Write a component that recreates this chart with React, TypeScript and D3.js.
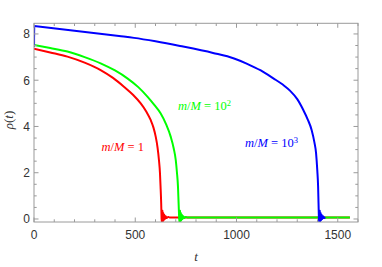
import React from "react";
import * as d3 from "d3";

// ---- data ----
// smooth part of each curve, up to the collapse
const redT = [0, 80, 165, 250, 329, 390, 444, 490, 527, 555, 576, 590, 601, 610, 617, 622, 625, 628, 630];
const redRho = [7.36, 7.2, 7.02, 6.76, 6.44, 6.1, 5.72, 5.36, 5.0, 4.64, 4.28, 3.95, 3.56, 3.1, 2.55, 2.0, 1.4, 0.7, 0.0];
// ringing tail after the collapse
const redTailT = [630, 632, 634, 636, 638, 640, 643, 646, 650, 655, 662, 672, 1560];
const redTailRho = [0.0, -0.14, 0.36, -0.1, 0.26, -0.05, 0.18, 0.0, 0.12, 0.04, 0.09, 0.06, 0.06];

const greenT = [0, 80, 165, 250, 329, 400, 461, 515, 560, 595, 625, 652, 675, 690, 700, 706, 711, 714, 717];
const greenRho = [7.52, 7.39, 7.24, 7.0, 6.73, 6.42, 6.08, 5.7, 5.29, 4.92, 4.57, 4.1, 3.56, 3.05, 2.55, 2.0, 1.4, 0.7, 0.0];
const greenTailT = [717, 719, 721, 723, 725, 727, 730, 733, 737, 742, 749, 759, 1560];
const greenTailRho = [0.0, -0.14, 0.36, -0.1, 0.26, -0.05, 0.18, 0.0, 0.12, 0.04, 0.09, 0.06, 0.06];

const blueStartT = [0, 1];
const blueStartRho = [7.45, 8.34];
const blueT = [1, 200, 420, 494, 600, 721, 884, 988, 1050, 1120, 1182, 1230, 1264, 1300, 1330, 1352, 1371, 1385, 1393, 1399, 1403, 1405, 1407];
const blueRho = [8.34, 8.14, 7.91, 7.83, 7.68, 7.48, 7.18, 6.94, 6.72, 6.42, 6.08, 5.8, 5.55, 5.18, 4.71, 4.3, 3.85, 3.3, 2.84, 2.1, 1.4, 0.7, 0.0];
const blueTailT = [1407, 1409, 1411, 1413, 1415, 1417, 1420, 1423, 1427, 1432, 1439];
const blueTailRho = [0.0, -0.14, 0.36, -0.1, 0.26, -0.05, 0.18, 0.0, 0.12, 0.04, 0.07];

const xMajor = [0, 500, 1000, 1500];
const yMajor = [0, 2, 4, 6, 8];

const W = 382, H = 267;
const x = d3.scaleLinear().domain([0, 1600]).range([34, 358]);
const y = d3.scaleLinear().domain([-0.13, 8.46]).range([222, 23.3]);

const xMinor = d3.range(0, 1601, 100).filter(v => v % 500 !== 0);
const yMinor = d3.range(0, 8.46, 0.5).filter(v => v % 2 !== 0);

const smooth = d3.line<[number, number]>().x(d => x(d[0])).y(d => y(d[1])).curve(d3.curveMonotoneX);
const straight = d3.line<[number, number]>().x(d => x(d[0])).y(d => y(d[1]));
const zip = (a: number[], b: number[]) => a.map((t, i) => [t, b[i]] as [number, number]);

const frameColor = "#9a9a9a";
const labelColor = "#333";

export default function App() {
  const [x0, x1] = x.range();
  const [y0, y1] = y.range();
  const series = [
    { parts: [smooth(zip(redT, redRho)), straight(zip(redTailT, redTailRho))], c: "#ff0000" },
    { parts: [smooth(zip(greenT, greenRho)), straight(zip(greenTailT, greenTailRho))], c: "#00ff00" },
    { parts: [straight(zip(blueStartT, blueStartRho)), smooth(zip(blueT, blueRho)), straight(zip(blueTailT, blueTailRho))], c: "#0000ff" },
  ];
  const serif = "'Liberation Serif', 'DejaVu Serif', serif";
  const sans = "'Liberation Sans', Arial, sans-serif";
  const eq = "\u00A0=\u00A0";
  return (
    <svg width={W} height={H} style={{ position: "absolute", left: 0, top: 0 }}>
      <defs>
        <clipPath id="plotclip">
          <rect x={x0} y={y1} width={x1 - x0} height={y0 - y1} />
        </clipPath>
      </defs>
      <rect width={W} height={H} fill="#fff" />
      <g clipPath="url(#plotclip)">
        {series.map((s, i) =>
          s.parts.map((p, j) => (
            <path key={i + "-" + j} d={p || ""} fill="none" stroke={s.c} strokeWidth={2} strokeLinejoin="round" />
          ))
        )}
      </g>
      {/* frame */}
      <rect x={x0} y={y1} width={x1 - x0} height={y0 - y1} fill="none" stroke={frameColor} strokeWidth={1} />
      {/* x ticks */}
      {xMajor.map(v => (
        <g key={"xm" + v}>
          <line x1={x(v)} x2={x(v)} y1={y0} y2={y0 - 4.5} stroke={frameColor} />
          <line x1={x(v)} x2={x(v)} y1={y1} y2={y1 + 4.5} stroke={frameColor} />
          <text x={x(v)} y={y0 + 17} textAnchor="middle" fontSize={12} fontFamily={sans} fill={labelColor}>{v}</text>
        </g>
      ))}
      {xMinor.map(v => (
        <g key={"xn" + v}>
          <line x1={x(v)} x2={x(v)} y1={y0} y2={y0 - 2.7} stroke={frameColor} />
          <line x1={x(v)} x2={x(v)} y1={y1} y2={y1 + 2.7} stroke={frameColor} />
        </g>
      ))}
      {/* y ticks */}
      {yMajor.map(v => (
        <g key={"ym" + v}>
          <line x1={x0} x2={x0 + 4.5} y1={y(v)} y2={y(v)} stroke={frameColor} />
          <line x1={x1} x2={x1 - 4.5} y1={y(v)} y2={y(v)} stroke={frameColor} />
          <text x={x0 - 4} y={y(v) + 4.3} textAnchor="end" fontSize={12} fontFamily={sans} fill={labelColor}>{v}</text>
        </g>
      ))}
      {yMinor.map(v => (
        <g key={"yn" + v}>
          <line x1={x0} x2={x0 + 2.7} y1={y(v)} y2={y(v)} stroke={frameColor} />
          <line x1={x1} x2={x1 - 2.7} y1={y(v)} y2={y(v)} stroke={frameColor} />
        </g>
      ))}
      {/* axis labels */}
      <text x={(x0 + x1) / 2} y={261} textAnchor="middle" fontSize={13} fontFamily={serif} fontStyle="italic" fill={labelColor}>t</text>
      <text transform={`translate(13,120) rotate(-90)`} textAnchor="middle" fontSize={13} fontFamily={serif} fill={labelColor}>
        <tspan fontStyle="italic">ρ</tspan>(<tspan fontStyle="italic">t</tspan>)
      </text>
      {/* curve labels */}
      <text x={101.5} y={150.5} fontSize={12.5} fontFamily={serif} fill="#ff0000">
        <tspan fontStyle="italic">m</tspan>/<tspan fontStyle="italic">M</tspan>{eq}1
      </text>
      <text x={178} y={110} fontSize={12.5} fontFamily={serif} fill="#00ff00">
        <tspan fontStyle="italic">m</tspan>/<tspan fontStyle="italic">M</tspan>{eq}10<tspan dy={-4.5} fontSize={8.5}>2</tspan>
      </text>
      <text x={245} y={147} fontSize={12.5} fontFamily={serif} fill="#0000ff">
        <tspan fontStyle="italic">m</tspan>/<tspan fontStyle="italic">M</tspan>{eq}10<tspan dy={-4.5} fontSize={8.5}>3</tspan>
      </text>
    </svg>
  );
}
